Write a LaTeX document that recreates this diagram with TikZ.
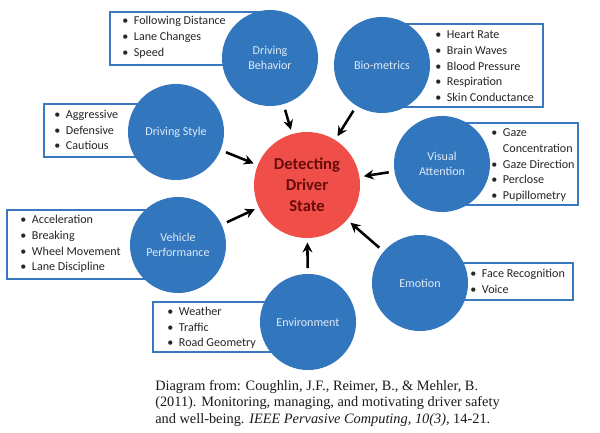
\documentclass[tikz,border=0pt]{standalone}
\usepackage{fontspec}
\setmainfont{Carlito}
\newfontfamily\capfont{Liberation Serif}
\usetikzlibrary{arrows.meta}

\definecolor{circblue}{RGB}{50,118,190}
\definecolor{boxblue}{RGB}{58,120,192}
\definecolor{statered}{RGB}{240,78,72}
\definecolor{statetext}{RGB}{105,12,12}
\definecolor{circtext}{RGB}{222,234,246}

\begin{document}
\begin{tikzpicture}[x=0.025cm, y=-0.025cm,
    factor/.style={circle, fill=circblue, text=circtext, minimum size=2.4cm, inner sep=0pt,
      align=center, font=\fontsize{8.6}{10.6}\selectfont},
    listbox/.style={draw=boxblue, line width=1.4pt, fill=white},
    items/.style={anchor=west, align=left, inner sep=0pt, text=black!85,
      font=\fontsize{8.6}{11.2}\selectfont},
    feed/.style={-{Stealth[length=7pt,width=7pt]}, line width=1.8pt,
      shorten >=3pt, shorten <=4pt}]
          \useasboundingbox (0,0) rectangle (600,433);
          \draw[listbox] (110,12) rectangle (270,65);
          \draw[listbox] (382,24) rectangle (543,107);
          \draw[listbox] (44,104) rectangle (176,157);
          \draw[listbox] (442,123) rectangle (578,205);
          \draw[listbox] (7,210) rectangle (178,279);
          \draw[listbox] (420,263) rectangle (573,300);
          \draw[listbox] (153,302) rectangle (308,352);
          \node[items] (behlist) at (122,37.5) {\begin{tabular}{@{}l@{\hspace{4pt}}l@{}}
            \textbullet & Following Distance\\ \textbullet & Lane Changes\\ \textbullet & Speed\end{tabular}};
          \node[items] (biolist) at (435,67) {\begin{tabular}{@{}l@{\hspace{4pt}}l@{}}
            \textbullet & Heart Rate\\ \textbullet & Brain Waves\\ \textbullet & Blood Pressure\\
            \textbullet & Respiration\\ \textbullet & Skin Conductance\end{tabular}};
          \node[items] (stylelist) at (54,131) {\begin{tabular}{@{}l@{\hspace{4pt}}l@{}}
            \textbullet & Aggressive\\ \textbullet & Defensive\\ \textbullet & Cautious\end{tabular}};
          \node[items] (visuallist) at (491,165) {\begin{tabular}{@{}l@{\hspace{4pt}}l@{}}
            \textbullet & Gaze\\ & Concentration\\ \textbullet & Gaze Direction\\
            \textbullet & Perclose\\ \textbullet & Pupillometry\end{tabular}};
          \node[items] (vehiclelist) at (20,244) {\begin{tabular}{@{}l@{\hspace{4pt}}l@{}}
            \textbullet & Acceleration\\ \textbullet & Breaking\\ \textbullet & Wheel Movement\\
            \textbullet & Lane Discipline\end{tabular}};
          \node[items] (emotionlist) at (470,282) {\begin{tabular}{@{}l@{\hspace{4pt}}l@{}}
            \textbullet & Face Recognition\\ \textbullet & Voice\end{tabular}};
          \node[items] (envlist) at (167,328) {\begin{tabular}{@{}l@{\hspace{4pt}}l@{}}
            \textbullet & Weather\\ \textbullet & Traffic\\ \textbullet & Road Geometry\end{tabular}};
          \node[factor] (beh) at (270,58) {Driving\\Behavior};
          \node[factor] (bio) at (382,65) {Bio-metrics};
          \node[factor] (style) at (176,132) {Driving Style};
          \node[factor] (visual) at (442,164) {Visual\\Attention};
          \node[factor] (vehicle) at (178,245) {Vehicle\\Performance};
          \node[factor] (emotion) at (420,283) {Emotion};
          \node[factor] (env) at (308,322) {Environment};
          \node[circle, fill=statered, text=statetext, minimum size=2.65cm, inner sep=0pt, align=center,
            font=\bfseries\fontsize{11.8}{15}\selectfont] (state) at (307,185) {Detecting\\Driver\\State};
          \draw[feed] (beh) -- (state);
          \draw[feed] (bio) -- (state);
          \draw[feed] (style) -- (state);
          \draw[feed] (visual) -- (state);
          \draw[feed] (vehicle) -- (state);
          \draw[feed] (emotion) -- (state);
          \draw[feed] (env) -- (state);
          \node[anchor=north west, align=left, inner sep=0pt, text=black!90,
            font=\capfont\fontsize{10.2}{11.7}\selectfont] (cite) at (155,380)
            {Diagram from: Coughlin, J.F., Reimer, B., \& Mehler, B.\\
             (2011). Monitoring, managing, and motivating driver safety\\
             and well-being. \textit{IEEE Pervasive Computing, 10(3),} 14-21.};
        \end{tikzpicture}
\end{document}
